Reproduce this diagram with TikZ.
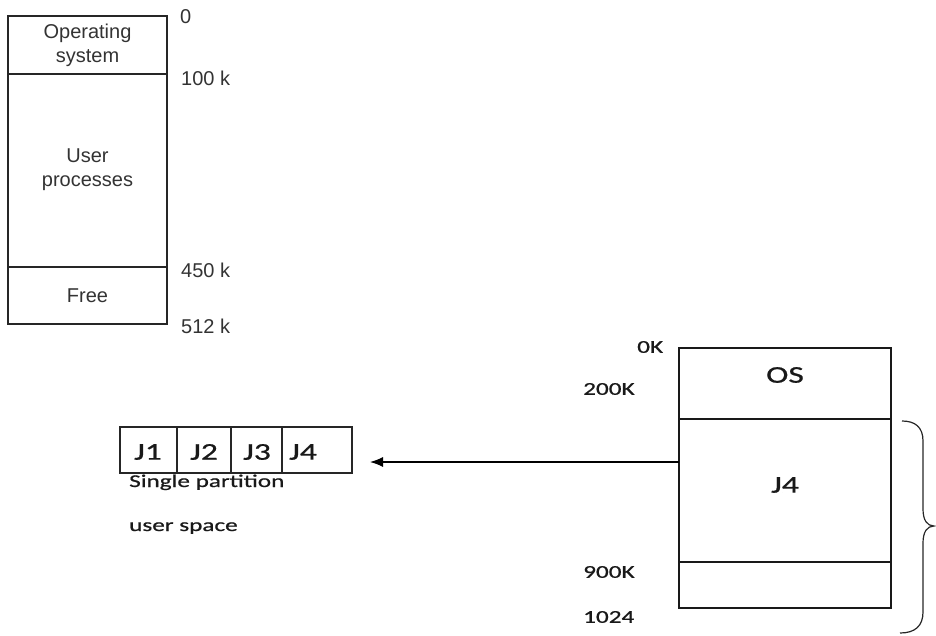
\documentclass[tikz,border=0pt]{standalone}
\usepackage{fontspec}
\setmainfont{Liberation Sans}
\newfontfamily\calfont[FakeStretch=1.4,FakeBold=0.8]{Carlito}
\usetikzlibrary{arrows.meta}
\begin{document}
\begin{tikzpicture}[x=1pt,y=-1pt,
 lbox/.style={draw=black!85,line width=1.4pt,minimum width=159pt,inner sep=0pt,outer sep=0pt},
 ltext/.style={font=\fontsize{20}{24}\selectfont,text=black!80,align=center,inner sep=0pt},
 laddr/.style={font=\fontsize{20}{24}\selectfont,text=black!80,anchor=west,inner sep=0pt},
 rbox/.style={draw=black!90,line width=1.2pt,minimum width=212pt,inner sep=0pt,outer sep=0pt},
 rtext/.style={font=\calfont\fontsize{24}{28}\selectfont,text=black!90,inner sep=0pt},
 raddr/.style={font=\calfont\fontsize{18}{22}\selectfont,text=black!90,anchor=west,inner sep=0pt},
 rnote/.style={font=\calfont\fontsize{18}{22}\selectfont,text=black!90,anchor=base west,inner sep=0pt},
 jbox/.style={draw=black!85,line width=1.2pt,minimum height=46pt,inner sep=0pt,outer sep=0pt},
 conn/.style={draw=black,line width=1.2pt,-{Latex[length=13pt,width=10pt]}},
 bracel/.style={draw=black!85,line width=1.2pt}]
\useasboundingbox (0,0) rectangle (936,635);

% left memory map
\node[lbox,minimum height=58pt] (los) at (87.5,45) {};
\node[lbox,minimum height=193pt] (lup) at (87.5,170.5) {};
\node[lbox,minimum height=57pt] (lfree) at (87.5,295.5) {};
\node[ltext] (tos) at (87.5,45) {Operating\\system};
\node[ltext] (tup) at (87.5,170) {User\\processes};
\node[ltext] (tfree) at (87.5,296) {Free};
\node[laddr] (a0) at (180,17) {0};
\node[laddr] (a100) at (181,78) {100 k};
\node[laddr] (a450) at (181,270) {450 k};
\node[laddr] (a512) at (181,326) {512 k};

% single partition jobs
\node[jbox,minimum width=57pt] (b1) at (148.5,450) {};
\node[jbox,minimum width=54pt] (b2) at (204,450) {};
\node[jbox,minimum width=51pt] (b3) at (256.5,450) {};
\node[jbox,minimum width=70pt] (b4) at (317,450) {};
\node[rtext] (j1) at (148,452) {J1};
\node[rtext] (j2) at (204,452) {J2};
\node[rtext] (j3) at (257,452) {J3};
\node[rtext] (j4) at (303,452) {J4};
\node[rnote] (n1) at (129,487) {Single partition};
\node[rnote] (n2) at (129,531) {user space};

% right memory map
\node[rbox,minimum height=71pt] (ros) at (785,383.5) {};
\node[rbox,minimum height=143pt] (rj4) at (785,490.5) {};
\node[rbox,minimum height=46pt] (rfree) at (785,585) {};
\node[rtext] (tros) at (785,375) {OS};
\node[rtext] (trj4) at (785,485) {J4};
\node[raddr] (r0) at (637,347) {0K};
\node[raddr] (r200) at (583,389) {200K};
\node[raddr] (r900) at (583,572) {900K};
\node[raddr] (r1024) at (583,617) {1024};

% arrow
\coordinate (tip) at (370,462);
\draw[conn] (rj4.west |- tip) -- (tip);

% brace
\draw[bracel] (902,421) .. controls (915,421) and (923,427) .. (923,441)
  -- (923,509) .. controls (923,520) and (927,526) .. (934,526)
  .. controls (927,526) and (923,532) .. (923,543)
  -- (923,612) .. controls (923,626) and (915,633) .. (900,633);
\end{tikzpicture}
\end{document}
